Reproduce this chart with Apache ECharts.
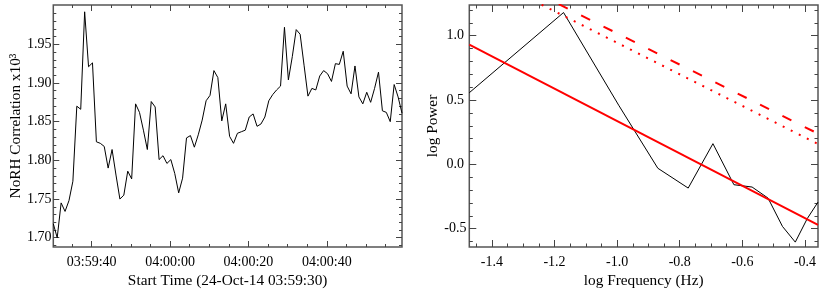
<!DOCTYPE html>
<html><head><meta charset="utf-8">
<script src="https://cdn.jsdelivr.net/npm/echarts@6/dist/echarts.min.js"></script>
<style>html,body{margin:0;padding:0;background:#fff}#c{width:830px;height:302px}</style>
</head><body><div id="c"></div>
<script>
// ---- Left panel data ----
const startOffsetSec = 0.2;   // first sample, seconds after 03:59:30
const cadenceSec = 1;
const correlation = [
  1.718,1.700,1.745,1.734,1.748,1.773,1.870,1.866,1.992,1.921,
  1.926,1.824,1.822,1.818,1.790,1.814,1.781,1.750,1.755,1.786,
  1.776,1.873,1.862,1.839,1.814,1.876,1.869,1.801,1.806,1.796,
  1.801,1.783,1.758,1.777,1.829,1.832,1.817,1.833,1.852,1.877,
  1.884,1.916,1.907,1.851,1.873,1.831,1.822,1.835,1.837,1.839,
  1.856,1.860,1.844,1.847,1.856,1.877,1.885,1.891,1.896,1.972,
  1.904,1.934,1.969,1.963,1.923,1.883,1.893,1.891,1.909,1.916,
  1.912,1.902,1.925,1.924,1.941,1.896,1.886,1.922,1.882,1.873,
  1.888,1.875,1.893,1.914,1.864,1.862,1.850,1.898,1.882,1.861
];
const timeRange = [0.2, 89.2];
const timeMajorSec = [10, 30, 50, 70];
const timeMajorLabels = ['03:59:40', '04:00:00', '04:00:20', '04:00:40'];
const timeMinorSec = [5, 15, 20, 25, 35, 40, 45, 55, 60, 65, 75, 80, 85];
const corrRange = [1.688, 2.0008];
const corrMajor = [1.70, 1.75, 1.80, 1.85, 1.90, 1.95];
const corrMajorLabels = ['1.70', '1.75', '1.80', '1.85', '1.90', '1.95'];
const corrMinor = [1.69,1.71,1.72,1.73,1.74,1.76,1.77,1.78,1.79,1.81,1.82,1.83,1.84,1.86,1.87,1.88,1.89,1.91,1.92,1.93,1.94,1.96,1.97,1.98,1.99];

// ---- Right panel data ----
const logFreq  = [-1.472,-1.171,-0.995,-0.870,-0.773,-0.694,-0.627,-0.569,-0.518,-0.472,-0.431,-0.393,-0.3585];
const logPower = [0.557, 1.180, 0.460, -0.030, -0.184, 0.161, -0.158, -0.176, -0.262, -0.482, -0.604, -0.422, -0.293];
const fitLogFreq = [-1.472, -0.3585];
const fitSolid  = [0.930, -0.470];
const fitDashed = [1.592, 0.239];
const fitDotted = [1.524, 0.158];
const freqRange = [-1.472, -0.3585];
const powRange = [-0.642, 1.2386];
const freqMajor = [-1.4, -1.2, -1.0, -0.8, -0.6, -0.4];
const freqMajorLabels = ['-1.4', '-1.2', '-1.0', '-0.8', '-0.6', '-0.4'];
const freqMinor = [-1.45,-1.35,-1.3,-1.25,-1.15,-1.1,-1.05,-0.95,-0.9,-0.85,-0.75,-0.7,-0.65,-0.55,-0.5,-0.45];
const powMajor = [-0.5, 0.0, 0.5, 1.0];
const powMajorLabels = ['-0.5', '0.0', '0.5', '1.0'];
const powMinor = [-0.6,-0.4,-0.3,-0.2,-0.1,0.1,0.2,0.3,0.4,0.6,0.7,0.8,0.9,1.1,1.2];

const FONT = 'Liberation Serif';
const TICK_COLOR = '#444';

function pickLabel(vals, labels) {
  return function (v) {
    let best = 0, bd = Infinity;
    vals.forEach((x, i) => { const d = Math.abs(x - v); if (d < bd) { bd = d; best = i; } });
    return bd < 1e-6 ? labels[best] : '';
  };
}

function mkAxis(gridIndex, position, range, values, len, labels, extra) {
  const ax = {
    type: 'value', gridIndex: gridIndex, position: position,
    min: range[0], max: range[1],
    axisLine: { show: false, onZero: false },
    splitLine: { show: false },
    axisTick: { show: true, inside: true, length: len, customValues: values,
      lineStyle: { color: TICK_COLOR, width: 1 } },
    axisLabel: { show: false }
  };
  if (labels) {
    ax.axisLabel = { show: true, customValues: values, formatter: pickLabel(values, labels),
      fontFamily: FONT, fontSize: 14, color: '#000' };
  }
  return Object.assign(ax, extra || {});
}

const nameStyle = { fontFamily: FONT, fontSize: 15.3, color: '#000' };

const xAxes = [
  // grid 0
  mkAxis(0, 'bottom', timeRange, timeMajorSec, 6, timeMajorLabels, {
    name: 'Start Time (24-Oct-14 03:59:30)', nameLocation: 'middle', nameGap: 23, nameTextStyle: nameStyle }),
  mkAxis(0, 'bottom', timeRange, timeMinorSec, 3),
  mkAxis(0, 'top', timeRange, timeMajorSec, 6),
  mkAxis(0, 'top', timeRange, timeMinorSec, 3),
  // grid 1
  mkAxis(1, 'bottom', freqRange, freqMajor, 7, freqMajorLabels, {
    name: 'log Frequency (Hz)', nameLocation: 'middle', nameGap: 23, nameTextStyle: nameStyle }),
  mkAxis(1, 'bottom', freqRange, freqMinor, 3.5),
  mkAxis(1, 'top', freqRange, freqMajor, 7),
  mkAxis(1, 'top', freqRange, freqMinor, 3.5)
];
xAxes[0].axisLabel.margin = 8;
xAxes[4].axisLabel.margin = 8;

const yAxes = [
  mkAxis(0, 'left', corrRange, corrMajor, 6, corrMajorLabels, {
    name: 'NoRH Correlation x10³', nameLocation: 'middle', nameGap: 28, nameRotate: 90, nameTextStyle: nameStyle }),
  mkAxis(0, 'left', corrRange, corrMinor, 3),
  mkAxis(0, 'right', corrRange, corrMajor, 6),
  mkAxis(0, 'right', corrRange, corrMinor, 3),
  mkAxis(1, 'left', powRange, powMajor, 7, powMajorLabels, {
    name: 'log Power', nameLocation: 'middle', nameGap: 25, nameRotate: 90, nameTextStyle: nameStyle }),
  mkAxis(1, 'left', powRange, powMinor, 3.5),
  mkAxis(1, 'right', powRange, powMajor, 7),
  mkAxis(1, 'right', powRange, powMinor, 3.5)
];
yAxes[0].axisLabel.align = 'center'; yAxes[0].axisLabel.margin = 14;
yAxes[4].axisLabel.align = 'center'; yAxes[4].axisLabel.margin = 14;

const corrData = correlation.map((v, i) => [startOffsetSec + i * cadenceSec, v]);
const pair = (xs, ys) => xs.map((x, i) => [x, ys[i]]);

const chart = echarts.init(document.getElementById('c'), null, { renderer: 'canvas' });
chart.setOption({
  animation: false,
  backgroundColor: '#fff',
  grid: [
    { left: 53.3, right: 428, top: 5, bottom: 55, show: true, borderColor: '#555', borderWidth: 1.5, backgroundColor: 'transparent' },
    { left: 469.3, right: 12, top: 5, bottom: 55, show: true, borderColor: '#555', borderWidth: 1.5, backgroundColor: 'transparent' }
  ],
  xAxis: xAxes,
  yAxis: yAxes,
  series: [
    { type: 'line', xAxisIndex: 0, yAxisIndex: 0, data: corrData, showSymbol: false,
      lineStyle: { color: '#000', width: 1 }, clip: true },
    { type: 'line', xAxisIndex: 4, yAxisIndex: 4, data: pair(logFreq, logPower), showSymbol: false,
      lineStyle: { color: '#000', width: 1 }, clip: true },
    { type: 'line', xAxisIndex: 4, yAxisIndex: 4, data: pair(fitLogFreq, fitSolid), showSymbol: false,
      lineStyle: { color: '#ff0000', width: 2 }, clip: true },
    { type: 'line', xAxisIndex: 4, yAxisIndex: 4, data: pair(fitLogFreq, fitDashed), showSymbol: false,
      lineStyle: { color: '#ff0000', width: 2, type: [10, 15] }, clip: true },
    { type: 'line', xAxisIndex: 4, yAxisIndex: 4, data: pair(fitLogFreq, fitDotted), showSymbol: false,
      lineStyle: { color: '#ff0000', width: 2, type: [2, 7] }, clip: true }
  ]
});
</script>
</body></html>
